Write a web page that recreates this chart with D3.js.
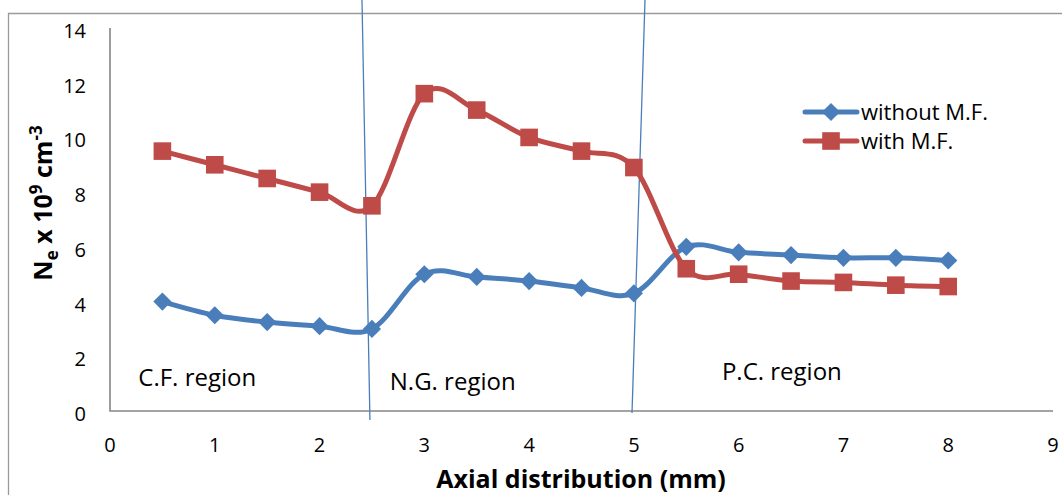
<!DOCTYPE html>
<html>
<head>
<meta charset="utf-8">
<script src="https://cdn.jsdelivr.net/npm/d3@7"></script>
<style>
  body { margin: 0; background: #fff; }
  svg { display: block; font-family: 'Open Sans', sans-serif; }
</style>
</head>
<body>
<div id="canvas"></div>
<script>
const xValues = [0.5, 1, 1.5, 2, 2.5, 3, 3.5, 4, 4.5, 5, 5.5, 6, 6.5, 7, 7.5, 8];
const withoutMF = [4.0, 3.5, 3.25, 3.1, 3.0, 5.0, 4.9, 4.75, 4.5, 4.3, 6.0, 5.8, 5.7, 5.6, 5.6, 5.5];
const withMF = [9.5, 9.0, 8.5, 8.0, 7.5, 11.6, 11.0, 10.0, 9.5, 8.9, 5.2, 5.0, 4.75, 4.7, 4.6, 4.55];
const seriesNames = ['without M.F.', 'with M.F.'];
const xTicks = [0, 1, 2, 3, 4, 5, 6, 7, 8, 9];
const yTicks = [0, 2, 4, 6, 8, 10, 12, 14];
const regionNames = ['C.F. region', 'N.G. region', 'P.C. region'];
// region boundaries drawn by hand in the original, in data units
const boundaries = [
    [[2.405, 15.02], [2.481, -0.33]],
    [[5.106, 15.02], [4.982, -0.07]]
];
const regionAt = [[0.27, 0.91], [2.67, 0.77], [5.84, 1.13]];

const width = 1062, height = 495;
const blue = '#4A7EBB', red = '#BE4B48';

const svg = d3.select('#canvas')
    .append('svg')
    .attr('width', width)
    .attr('height', height);

const x = d3.scaleLinear().domain([0, 9]).range([110, 1053]);
const y = d3.scaleLinear().domain([0, 14]).range([411, 28]);

// outer chart frame (cropped on the right and bottom)
svg.append('path')
    .attr('d', `M8.5,${height}V13.5H${width}`)
    .attr('fill', 'none')
    .attr('stroke', '#9a9a9a')
    .attr('stroke-width', 1.3);

// axes
svg.append('path')
    .attr('d', `M${x(0)},${y(14)}V${y(0)}H${x(9)}`)
    .attr('fill', 'none')
    .attr('stroke', '#868686')
    .attr('stroke-width', 1.6);

svg.selectAll('.ylab')
    .data(yTicks)
    .enter()
    .append('text')
    .attr('x', 86)
    .attr('y', d => y(d) + 10)
    .attr('text-anchor', 'end')
    .attr('font-size', 20)
    .attr('fill', '#000')
    .text(d => d);

svg.selectAll('.xlab')
    .data(xTicks)
    .enter()
    .append('text')
    .attr('x', d => x(d))
    .attr('y', 452)
    .attr('text-anchor', 'middle')
    .attr('font-size', 20)
    .attr('fill', '#000')
    .text(d => d);

svg.append('text')
    .attr('x', 581)
    .attr('y', 488)
    .attr('text-anchor', 'middle')
    .attr('font-size', 25)
    .attr('font-weight', 'bold')
    .text('Axial distribution (mm)');

const yTitle = svg.append('text')
    .attr('transform', 'translate(52,203) rotate(-90)')
    .attr('text-anchor', 'middle')
    .attr('font-size', 25)
    .attr('font-weight', 'bold');
yTitle.append('tspan').text('N');
yTitle.append('tspan').attr('font-size', 17).attr('dy', 6).text('e');
yTitle.append('tspan').attr('dy', -6).text(' x 10');
yTitle.append('tspan').attr('font-size', 17).attr('dy', -10).text('9');
yTitle.append('tspan').attr('dy', 10).text(' cm');
yTitle.append('tspan').attr('font-size', 17).attr('dy', -10).text('-3');

// region boundary lines
svg.selectAll('.boundary')
    .data(boundaries)
    .enter()
    .append('line')
    .attr('x1', d => x(d[0][0]))
    .attr('y1', d => y(d[0][1]))
    .attr('x2', d => x(d[1][0]))
    .attr('y2', d => y(d[1][1]))
    .attr('stroke', blue)
    .attr('stroke-width', 1.3);

svg.selectAll('.region')
    .data(regionNames)
    .enter()
    .append('text')
    .attr('x', (d, i) => x(regionAt[i][0]))
    .attr('y', (d, i) => y(regionAt[i][1]))
    .attr('font-size', 24)
    .attr('fill', '#000')
    .text(d => d);

// series
const series = [
    { name: seriesNames[0], values: withoutMF, color: blue, shape: 'diamond' },
    { name: seriesNames[1], values: withMF, color: red, shape: 'square' }
];

const line = d3.line()
    .x(d => x(d[0]))
    .y(d => y(d[1]))
    .curve(d3.curveCatmullRom.alpha(0));

function marker(g, shape, color) {
    if (shape === 'diamond') {
        g.append('path')
            .attr('d', d3.symbol(d3.symbolSquare, 165)())
            .attr('transform', 'rotate(45)')
            .attr('fill', color);
    } else {
        g.append('path')
            .attr('d', d3.symbol(d3.symbolSquare, 310)())
            .attr('fill', color);
    }
}

series.forEach(s => {
    const pts = xValues.map((v, i) => [v, s.values[i]]);
    svg.append('path')
        .datum(pts)
        .attr('d', line)
        .attr('fill', 'none')
        .attr('stroke', s.color)
        .attr('stroke-width', 5)
        .attr('stroke-linejoin', 'round');
    svg.selectAll(null)
        .data(pts)
        .enter()
        .append('g')
        .attr('transform', d => `translate(${x(d[0])},${y(d[1])})`)
        .each(function () { marker(d3.select(this), s.shape, s.color); });
});

// legend
const legend = svg.append('g').attr('transform', 'translate(805,112)');
series.forEach((s, i) => {
    const row = legend.append('g').attr('transform', `translate(0,${i * 29})`);
    row.append('line')
        .attr('x1', 0).attr('x2', 52)
        .attr('stroke', s.color)
        .attr('stroke-width', 5)
        .attr('stroke-linecap', 'round');
    const m = row.append('g').attr('transform', 'translate(26,0)');
    marker(m, s.shape, s.color);
    row.append('text')
        .attr('x', 56)
        .attr('y', 8)
        .attr('font-size', 22)
        .attr('fill', '#000')
        .text(s.name);
});
</script>
</body>
</html>
